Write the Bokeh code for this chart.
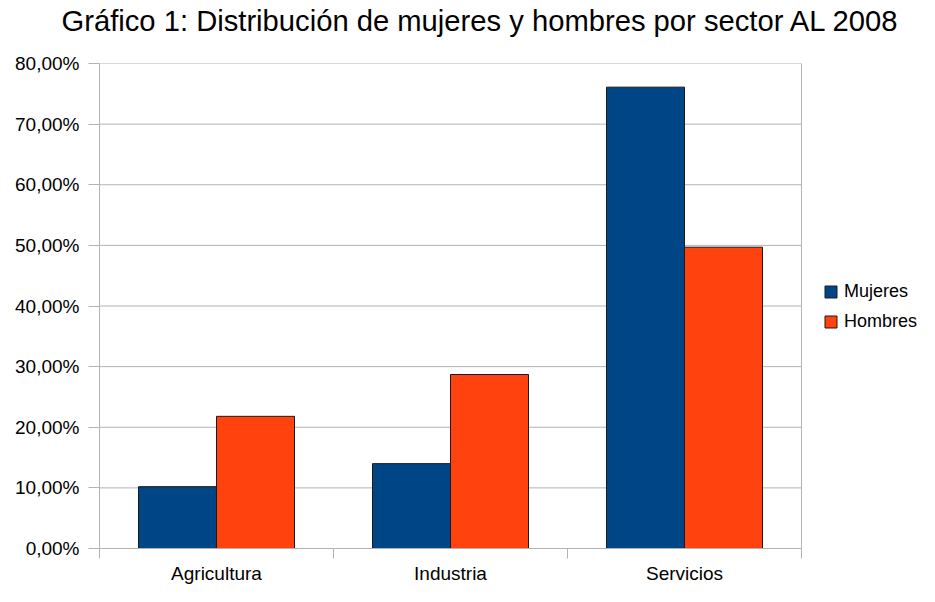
from bokeh.plotting import figure
from bokeh.models import ColumnDataSource, Range1d, FixedTicker, Legend, LegendItem, Title
from bokeh.transform import dodge
from bokeh.embed import file_html
from bokeh.resources import INLINE

# ---- data ----
categories = ["Agricultura", "Industria", "Servicios"]
mujeres = [10.2, 14.0, 76.1]
hombres = [21.8, 28.7, 49.7]
series_names = ["Mujeres", "Hombres"]
y_ticks = [0, 10, 20, 30, 40, 50, 60, 70, 80]
y_tick_labels = ["0,00%", "10,00%", "20,00%", "30,00%", "40,00%",
                 "50,00%", "60,00%", "70,00%", "80,00%"]
title_text = "Gráfico 1: Distribución de mujeres y hombres por sector AL 2008"

FONT = "Liberation Sans"
GRID = "#b3b3b3"
C_MUJ = "#004586"
C_HOM = "#ff420e"

W, H = 919, 586
LEFT, TOP, BOTTOM = 99, 62, 36
PLOT_RIGHT = 801          # pixel where the category area ends
n = len(categories)
# the frame runs to the right edge so the legend can sit beside the bars
x_end = n * (W - LEFT) / (PLOT_RIGHT - LEFT)

centers = [i + 0.5 for i in range(n)]
src = ColumnDataSource(dict(x=centers, cat=categories, mujeres=mujeres, hombres=hombres))

p = figure(width=W, height=H, output_backend="svg", toolbar_location=None,
           x_range=Range1d(0, x_end), y_range=Range1d(y_ticks[0], y_ticks[-1]),
           min_border_left=LEFT, min_border_right=0, min_border_top=TOP,
           min_border_bottom=BOTTOM, background_fill_color="white",
           border_fill_color="white")

# title, with a blank spacer title between it and the plot area
p.title = None
spacer = Title(text=" ", text_font_size="10px", standoff=8, text_color="white")
main_title = Title(text=title_text, align="left", offset=-38, standoff=8,
                   vertical_align="top",
                   text_font=FONT, text_font_size="29.2px",
                   text_font_style="normal", text_color="#000000")
p.add_layout(spacer, "above")
p.add_layout(main_title, "above")

p.outline_line_color = None
p.xgrid.visible = False
p.ygrid.visible = False

# horizontal grid lines and right border, limited to the category area
p.segment(x0=[0] * len(y_ticks), x1=[n] * len(y_ticks), y0=y_ticks, y1=y_ticks,
          line_color=GRID, line_width=1, level="underlay")
p.segment(x0=[n], x1=[n], y0=[y_ticks[0]], y1=[y_ticks[-1]],
          line_color=GRID, line_width=1, level="underlay")

# y axis
p.yaxis.ticker = FixedTicker(ticks=y_ticks)
p.yaxis.major_label_overrides = {t: l for t, l in zip(y_ticks, y_tick_labels)}
p.yaxis.axis_line_color = GRID
p.yaxis.major_tick_line_color = GRID
p.yaxis.major_tick_out = 11
p.yaxis.major_tick_in = 0
p.yaxis.minor_tick_line_color = None
p.yaxis.major_label_standoff = 9
p.yaxis.major_label_text_font = FONT
p.yaxis.major_label_text_font_size = "19px"
p.yaxis.major_label_text_color = "#000000"

# x axis: labels at category centres, ticks at category boundaries
p.xaxis.bounds = (0, n)
p.xaxis.ticker = FixedTicker(ticks=centers, minor_ticks=list(range(n + 1)))
p.xaxis.major_label_overrides = {c: name for c, name in zip(centers, categories)}
p.xaxis.axis_line_color = GRID
p.xaxis.major_tick_line_color = None
p.xaxis.major_tick_out = 10
p.xaxis.major_tick_in = 0
p.xaxis.minor_tick_line_color = GRID
p.xaxis.minor_tick_out = 10
p.xaxis.minor_tick_in = 0
p.xaxis.major_label_standoff = 4
p.xaxis.major_label_text_font = FONT
p.xaxis.major_label_text_font_size = "19px"
p.xaxis.major_label_text_color = "#000000"

w = 1 / 3
r1 = p.vbar(x=dodge("x", -w / 2), top="mujeres", width=w, source=src,
            fill_color=C_MUJ, line_color="#1a1a1a", line_width=1)
r2 = p.vbar(x=dodge("x", w / 2), top="hombres", width=w, source=src,
            fill_color=C_HOM, line_color="#1a1a1a", line_width=1)

legend = Legend(items=[LegendItem(label=series_names[0], renderers=[r1]),
                       LegendItem(label=series_names[1], renderers=[r2])],
                location=(724, 216), padding=0, margin=0, spacing=9,
                glyph_width=15, glyph_height=15, label_height=20,
                label_standoff=6, label_text_font=FONT,
                label_text_font_size="18px", label_text_color="#000000",
                border_line_color=None, background_fill_alpha=0)
p.add_layout(legend, "center")

open("out.html", "w").write(file_html(p, INLINE))
